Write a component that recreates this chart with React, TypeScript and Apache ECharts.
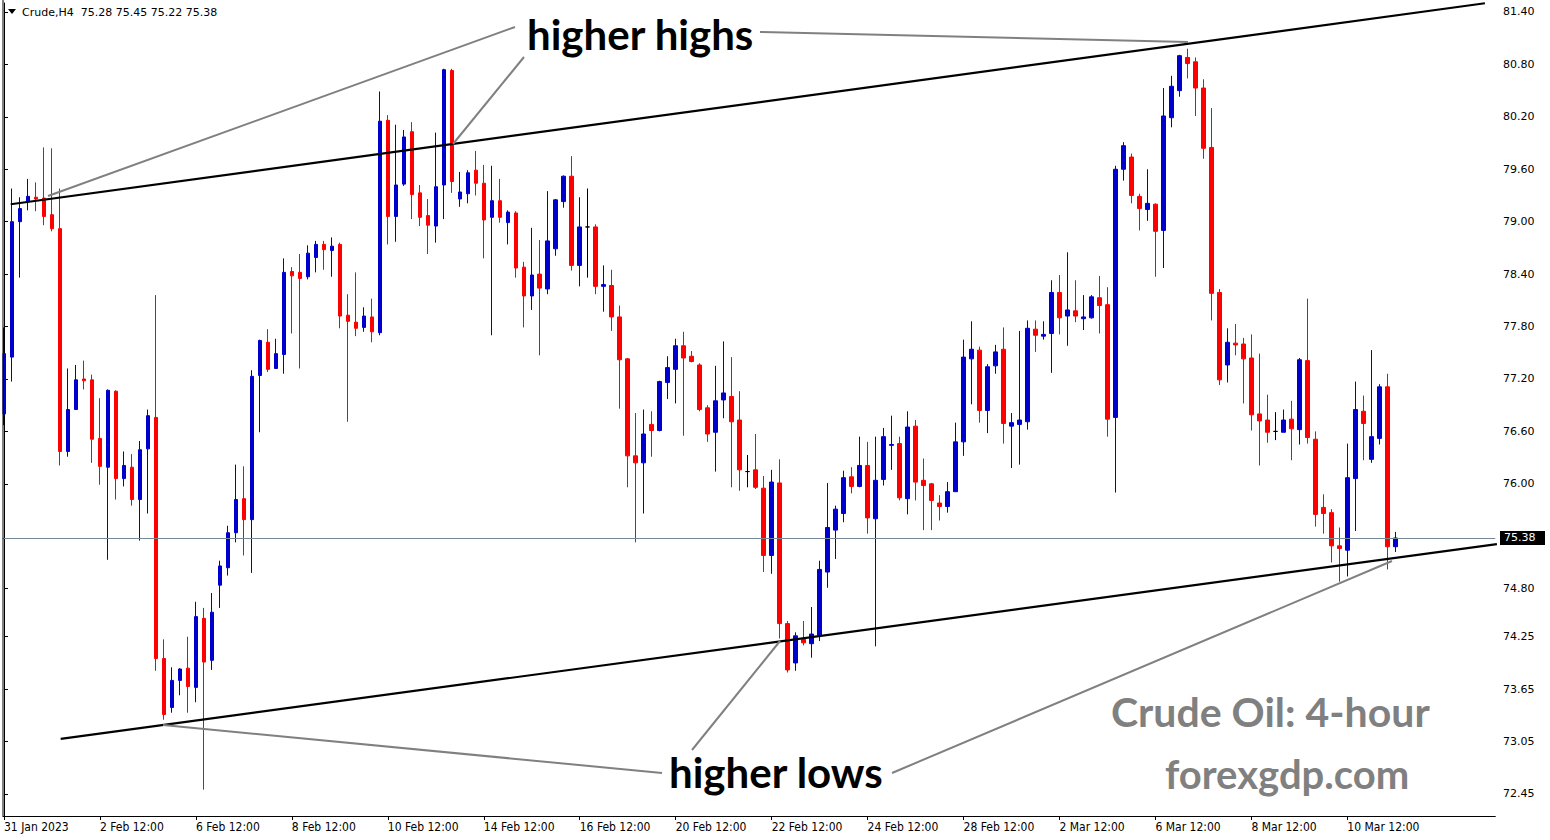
import React, { useEffect, useRef } from "react";
import * as echarts from "echarts";

// ---- data (4-hour candles) ----
const opens = [
  76.80, 77.45, 79.00, 79.23, 79.28, 79.27, 79.08, 78.92, 76.37, 76.85,
  77.20, 77.19, 76.52, 76.19, 77.06, 76.06, 76.19, 75.82, 76.40, 76.76,
  74.00, 73.44, 73.75, 73.89, 73.67, 74.46, 73.98, 74.84, 75.04, 75.44,
  75.83, 75.59, 77.24, 77.62, 77.32, 77.48, 78.43, 78.42, 78.37, 78.59,
  78.74, 78.67, 78.74, 77.93, 77.85, 77.79, 77.91, 77.73, 80.16, 79.06,
  79.43, 80.03, 79.33, 79.07, 78.95, 79.42, 80.73, 79.26, 79.32, 79.59,
  79.44, 79.05, 79.24, 78.99, 79.10, 78.48, 78.15, 78.40, 78.23, 78.69,
  79.23, 79.52, 78.50, 78.94, 78.94, 78.26, 78.27, 77.91, 77.43, 76.32,
  76.24, 76.68, 76.61, 77.16, 77.31, 77.58, 77.46, 77.36, 76.87, 76.59,
  76.96, 77.00, 76.73, 76.14, 76.16, 75.95, 75.18, 76.01, 74.40, 73.95,
  74.22, 74.17, 74.26, 74.99, 75.47, 75.66, 76.08, 75.97, 76.21, 75.60,
  76.05, 76.44, 76.46, 75.83, 76.66, 76.04, 76.00, 75.78, 75.74, 75.91,
  76.48, 77.43, 77.53, 76.84, 77.35, 77.54, 76.66, 76.68, 76.71, 77.77,
  77.69, 77.72, 78.19, 77.92, 77.98, 77.89, 77.90, 78.13, 78.05, 76.76,
  79.60, 79.74, 79.29, 79.14, 79.20, 78.90, 80.19, 80.50, 80.88, 80.83,
  80.53, 79.85, 78.19, 77.36, 77.61, 77.60, 77.44, 76.80, 76.73, 76.60,
  76.59, 76.74, 76.62, 77.41, 76.51, 75.73, 75.67, 75.29, 75.24, 76.06,
  76.83, 76.28, 76.52, 77.11, 75.28,
];
const closes = [
  77.49, 79.00, 79.15, 79.29, 79.26, 79.06, 78.92, 76.37, 76.85, 77.19,
  77.18, 76.51, 76.20, 77.07, 76.06, 76.21, 75.82, 76.39, 76.78, 74.00,
  73.36, 73.75, 73.88, 73.68, 74.48, 73.96, 74.53, 75.06, 75.44, 75.82,
  75.59, 77.23, 77.64, 77.31, 77.49, 78.42, 78.38, 78.35, 78.64, 78.74,
  78.68, 78.72, 77.92, 77.86, 77.78, 77.92, 77.74, 80.15, 79.06, 79.42,
  79.97, 79.31, 79.05, 78.96, 79.40, 80.74, 79.46, 79.34, 79.56, 79.44,
  79.02, 79.24, 79.05, 79.11, 78.47, 78.15, 78.39, 78.24, 78.78, 79.25,
  79.52, 78.50, 78.94, 78.94, 78.26, 78.28, 77.91, 77.42, 76.32, 76.24,
  76.57, 76.61, 77.17, 77.33, 77.58, 77.44, 77.40, 76.85, 76.57, 76.95,
  77.04, 76.71, 76.16, 76.14, 75.96, 75.18, 76.02, 74.40, 73.87, 74.26,
  74.18, 74.28, 75.02, 75.50, 75.71, 76.07, 75.97, 76.21, 75.61, 76.04,
  76.54, 76.45, 75.84, 76.65, 76.02, 75.98, 75.81, 75.74, 75.91, 76.48,
  77.45, 77.54, 76.84, 77.34, 77.51, 76.69, 76.70, 76.73, 77.78, 77.70,
  77.71, 78.19, 77.90, 77.99, 77.92, 77.91, 78.14, 78.04, 76.74, 79.60,
  79.87, 79.30, 79.15, 79.21, 78.89, 80.21, 80.55, 80.90, 80.81, 80.53,
  79.84, 78.18, 77.19, 77.62, 77.59, 77.43, 76.79, 76.72, 76.59, 76.60,
  76.73, 76.63, 77.42, 76.53, 75.65, 75.66, 75.29, 75.26, 76.07, 76.85,
  76.69, 76.54, 77.11, 75.28, 75.38,
];
const lows = [
  76.67, 77.17, 78.36, 79.13, 79.12, 78.96, 78.89, 76.21, 76.31, 76.85,
  77.08, 76.24, 75.99, 75.13, 75.82, 75.97, 75.75, 75.35, 75.66, 73.86,
  73.30, 73.38, 73.58, 73.38, 73.50, 72.50, 73.87, 74.58, 74.95, 75.33,
  75.18, 74.98, 76.59, 77.28, 77.32, 77.26, 77.72, 77.32, 78.34, 78.42,
  78.45, 78.37, 77.78, 76.71, 77.69, 77.74, 77.62, 77.70, 78.74, 78.77,
  79.41, 79.03, 78.95, 78.63, 78.76, 79.03, 79.33, 79.17, 79.21, 79.30,
  78.58, 77.70, 78.99, 78.74, 78.36, 77.79, 77.99, 77.47, 78.17, 78.61,
  79.16, 78.44, 78.26, 78.36, 78.17, 77.97, 77.75, 76.86, 75.96, 75.33,
  75.66, 76.31, 76.60, 76.97, 76.92, 76.55, 77.39, 76.83, 76.48, 76.14,
  76.75, 75.96, 75.92, 75.96, 75.94, 74.99, 74.97, 74.23, 73.84, 73.86,
  74.15, 74.01, 74.20, 74.81, 75.14, 75.56, 75.89, 75.96, 75.43, 74.14,
  75.98, 76.16, 75.81, 75.65, 75.81, 75.47, 75.47, 75.58, 75.67, 75.91,
  76.32, 76.91, 76.70, 76.58, 77.26, 76.46, 76.18, 76.22, 76.62, 77.51,
  77.65, 77.27, 77.71, 77.58, 77.85, 77.76, 77.89, 77.72, 76.54, 75.90,
  79.47, 79.21, 78.90, 79.01, 78.37, 78.47, 80.08, 80.43, 80.64, 80.21,
  79.72, 77.87, 77.13, 77.16, 77.47, 76.92, 76.61, 76.21, 76.47, 76.50,
  76.59, 76.27, 76.45, 76.46, 75.51, 75.43, 75.10, 74.88, 74.94, 75.46,
  76.27, 76.24, 76.45, 75.02, 75.22,
];
const highs = [
  77.79, 79.38, 79.28, 79.49, 79.45, 79.85, 79.84, 79.38, 77.32, 77.36,
  77.41, 77.25, 76.98, 77.08, 77.07, 76.37, 76.34, 76.49, 76.85, 78.16,
  74.22, 73.90, 73.89, 74.25, 74.65, 74.58, 74.75, 75.12, 75.52, 76.22,
  76.20, 77.30, 77.65, 77.77, 77.66, 78.58, 78.48, 78.63, 78.73, 78.78,
  78.78, 78.82, 78.76, 78.17, 78.42, 78.02, 78.12, 80.49, 80.22, 80.11,
  80.05, 80.14, 79.42, 79.26, 80.02, 80.75, 80.75, 79.57, 79.59, 79.81,
  79.65, 79.64, 79.49, 79.13, 79.12, 78.54, 78.93, 78.79, 79.35, 79.26,
  79.53, 79.75, 79.28, 79.38, 78.97, 78.50, 78.45, 78.04, 77.44, 76.81,
  76.85, 76.83, 77.18, 77.46, 77.66, 77.74, 77.52, 77.38, 76.90, 77.35,
  77.63, 77.45, 77.06, 76.33, 76.57, 76.09, 76.16, 76.28, 74.43, 74.30,
  74.43, 74.59, 75.12, 76.01, 75.75, 76.15, 76.19, 76.54, 76.48, 76.54,
  76.64, 76.78, 76.54, 76.83, 76.73, 76.29, 76.01, 75.87, 76.02, 76.70,
  77.65, 77.86, 77.57, 77.37, 77.59, 77.79, 76.81, 77.75, 77.87, 77.87,
  77.86, 78.33, 78.39, 78.65, 78.33, 78.16, 78.16, 78.38, 78.25, 79.64,
  79.91, 79.78, 79.32, 79.60, 79.21, 80.53, 80.67, 80.91, 80.98, 80.88,
  80.63, 80.30, 78.23, 77.78, 77.83, 77.67, 77.71, 77.49, 77.02, 76.82,
  76.85, 76.95, 77.44, 78.12, 76.60, 75.88, 75.71, 75.50, 76.46, 77.17,
  77.01, 77.53, 77.14, 77.26, 75.45,
];

const tickLabels = [
  "31 Jan 2023", "2 Feb 12:00", "6 Feb 12:00", "8 Feb 12:00", "10 Feb 12:00",
  "14 Feb 12:00", "16 Feb 12:00", "20 Feb 12:00", "22 Feb 12:00", "24 Feb 12:00",
  "28 Feb 12:00", "2 Mar 12:00", "6 Mar 12:00", "8 Mar 12:00", "10 Mar 12:00",
];
const barsPerTick = 12;
const emptySlots = 12;

const priceTicks = [81.40, 80.80, 80.20, 79.60, 79.00, 78.40, 77.80, 77.20, 76.60, 76.00, 74.80, 74.25, 73.65, 73.05, 72.45];
const priceMin = 72.198;
const priceMax = 81.503;
const lastPrice = 75.38;
const headerText = "Crude,H4  75.28 75.45 75.22 75.38";

// channel trend lines: [bar index, price]
const upperChannel = [[0.84, 79.2], [185.2, 81.5]];
const lowerChannel = [[7.09, 73.08], [186.7, 75.31]];

export default function App() {
  const ref = useRef<HTMLDivElement>(null);

  useEffect(() => {
    const chart = echarts.init(ref.current!, null, { renderer: "svg" });
    const n = opens.length;
    const total = n + emptySlots;
    const categories = Array.from({ length: total }, (_, i) => `bar${i}`);
    const candles = opens.map((o, i) => [o, closes[i], lows[i], highs[i]]);
    const isTick = (i: number) => i % barsPerTick === 0 && i / barsPerTick < tickLabels.length;

    chart.setOption({
      animation: false,
      backgroundColor: "#ffffff",
      grid: { left: -0.7, right: 54.7, top: 3, bottom: 24, containLabel: false },
      xAxis: [
        {
          type: "category",
          data: categories,
          boundaryGap: true,
          axisLine: { show: true, lineStyle: { color: "#000", width: 1 } },
          axisTick: {
            show: true,
            alignWithLabel: true,
            interval: (i: number) => isTick(i),
            length: 4,
            lineStyle: { color: "#000" },
          },
          axisLabel: {
            show: true,
            interval: (i: number) => isTick(i),
            formatter: (_v: string, i: number) => (isTick(i) ? tickLabels[i / barsPerTick] : ""),
            align: "left",
            margin: 5,
            color: "#000",
            fontSize: 12,
            fontFamily: '"DejaVu Sans Condensed", "Liberation Sans Narrow", sans-serif',
          },
          splitLine: { show: false },
        },
        {
          type: "value",
          min: -0.5,
          max: total - 0.5,
          show: false,
        },
      ],
      yAxis: {
        type: "value",
        position: "right",
        offset: 1.7,
        min: priceMin,
        max: priceMax,
        scale: true,
        axisLine: { show: true, lineStyle: { color: "#000", width: 1 } },
        axisTick: { show: true, length: 4, customValues: priceTicks, lineStyle: { color: "#000" } },
        axisLabel: {
          show: true,
          customValues: priceTicks,
          formatter: (v: number) => v.toFixed(2),
          color: "#000",
          fontSize: 11,
          fontFamily: '"DejaVu Sans", sans-serif',
          margin: 6,
          align: "left",
        },
        splitLine: { show: false },
      },
      series: [
        {
          type: "candlestick",
          xAxisIndex: 0,
          yAxisIndex: 0,
          data: candles,
          barWidth: 4,
          itemStyle: {
            color: "#0000cd",
            color0: "#ff0000",
            borderColor: "#0000cd",
            borderColor0: "#ff0000",
            borderColorDoji: "#000000",
            borderWidth: 1,
          },
          silent: true,
          markLine: {
            silent: true,
            symbol: ["none", "none"],
            label: { show: false },
            lineStyle: { color: "#778899", width: 1, type: "solid" },
            data: [{ yAxis: lastPrice }],
          },
        },
        {
          type: "line",
          xAxisIndex: 1,
          yAxisIndex: 0,
          data: upperChannel,
          showSymbol: false,
          symbol: "none",
          clip: false,
          silent: true,
          lineStyle: { color: "#000", width: 2.2 },
        },
        {
          type: "line",
          xAxisIndex: 1,
          yAxisIndex: 0,
          data: lowerChannel,
          showSymbol: false,
          symbol: "none",
          clip: false,
          silent: true,
          lineStyle: { color: "#000", width: 2.2 },
        },
      ],
    });

    const py = chart.convertToPixel({ yAxisIndex: 0 }, lastPrice) as number;
    const gray = "#808080";
    const grayLine = (x1: number, y1: number, x2: number, y2: number) => ({
      type: "line",
      z: 50,
      silent: true,
      shape: { x1, y1, x2, y2 },
      style: { stroke: gray, lineWidth: 2 },
    });
    const bigText = (text: string, x: number, y: number, color: string, size: number) => ({
      type: "text",
      z: 60,
      silent: true,
      style: {
        text,
        x,
        y,
        fill: color,
        fontSize: size,
        fontWeight: "bold",
        fontFamily: "Lato, 'Open Sans', sans-serif",
        textAlign: "left",
        textVerticalAlign: "middle",
      },
    });

    chart.setOption({
      graphic: [
        { type: "rect", z: 90, silent: true, shape: { x: 0, y: 0, width: 2.5, height: 840 }, style: { fill: "#fff" } },
        { type: "line", z: 91, silent: true, shape: { x1: 3, y1: 0, x2: 3, y2: 816 }, style: { stroke: "#000", lineWidth: 1 } },
        { type: "polygon", z: 60, silent: true, shape: { points: [[8, 9], [16, 9], [12, 14]] }, style: { fill: "#000" } },
        {
          type: "text", z: 60, silent: true,
          style: { text: headerText, x: 22, y: 12, fill: "#000", fontSize: 11, fontFamily: '"DejaVu Sans", sans-serif', textAlign: "left", textVerticalAlign: "middle" },
        },
        grayLine(48, 196, 515, 27),
        grayLine(453, 144, 524, 57),
        grayLine(760, 32, 1188, 42),
        grayLine(163, 725, 662, 773),
        grayLine(692, 750, 780, 641),
        grayLine(892, 773, 1392, 561),
        bigText("higher highs", 527, 34, "#000", 42),
        bigText("higher lows", 669, 772, "#000", 42),
        bigText("Crude Oil: 4-hour", 1111, 711, gray, 41),
        bigText("forexgdp.com", 1165, 774, gray, 40),
        { type: "rect", z: 95, silent: true, shape: { x: 1500, y: py - 7, width: 45, height: 14 }, style: { fill: "#000" } },
        {
          type: "text", z: 96, silent: true,
          style: { text: lastPrice.toFixed(2), x: 1504, y: py, fill: "#fff", fontSize: 11, fontFamily: '"DejaVu Sans", sans-serif', textAlign: "left", textVerticalAlign: "middle" },
        },
      ],
    });

    return () => chart.dispose();
  }, []);

  return (
    <div
      ref={ref}
      style={{ position: "absolute", left: 0, top: 0, width: 1550, height: 840, background: "#fff" }}
    />
  );
}
